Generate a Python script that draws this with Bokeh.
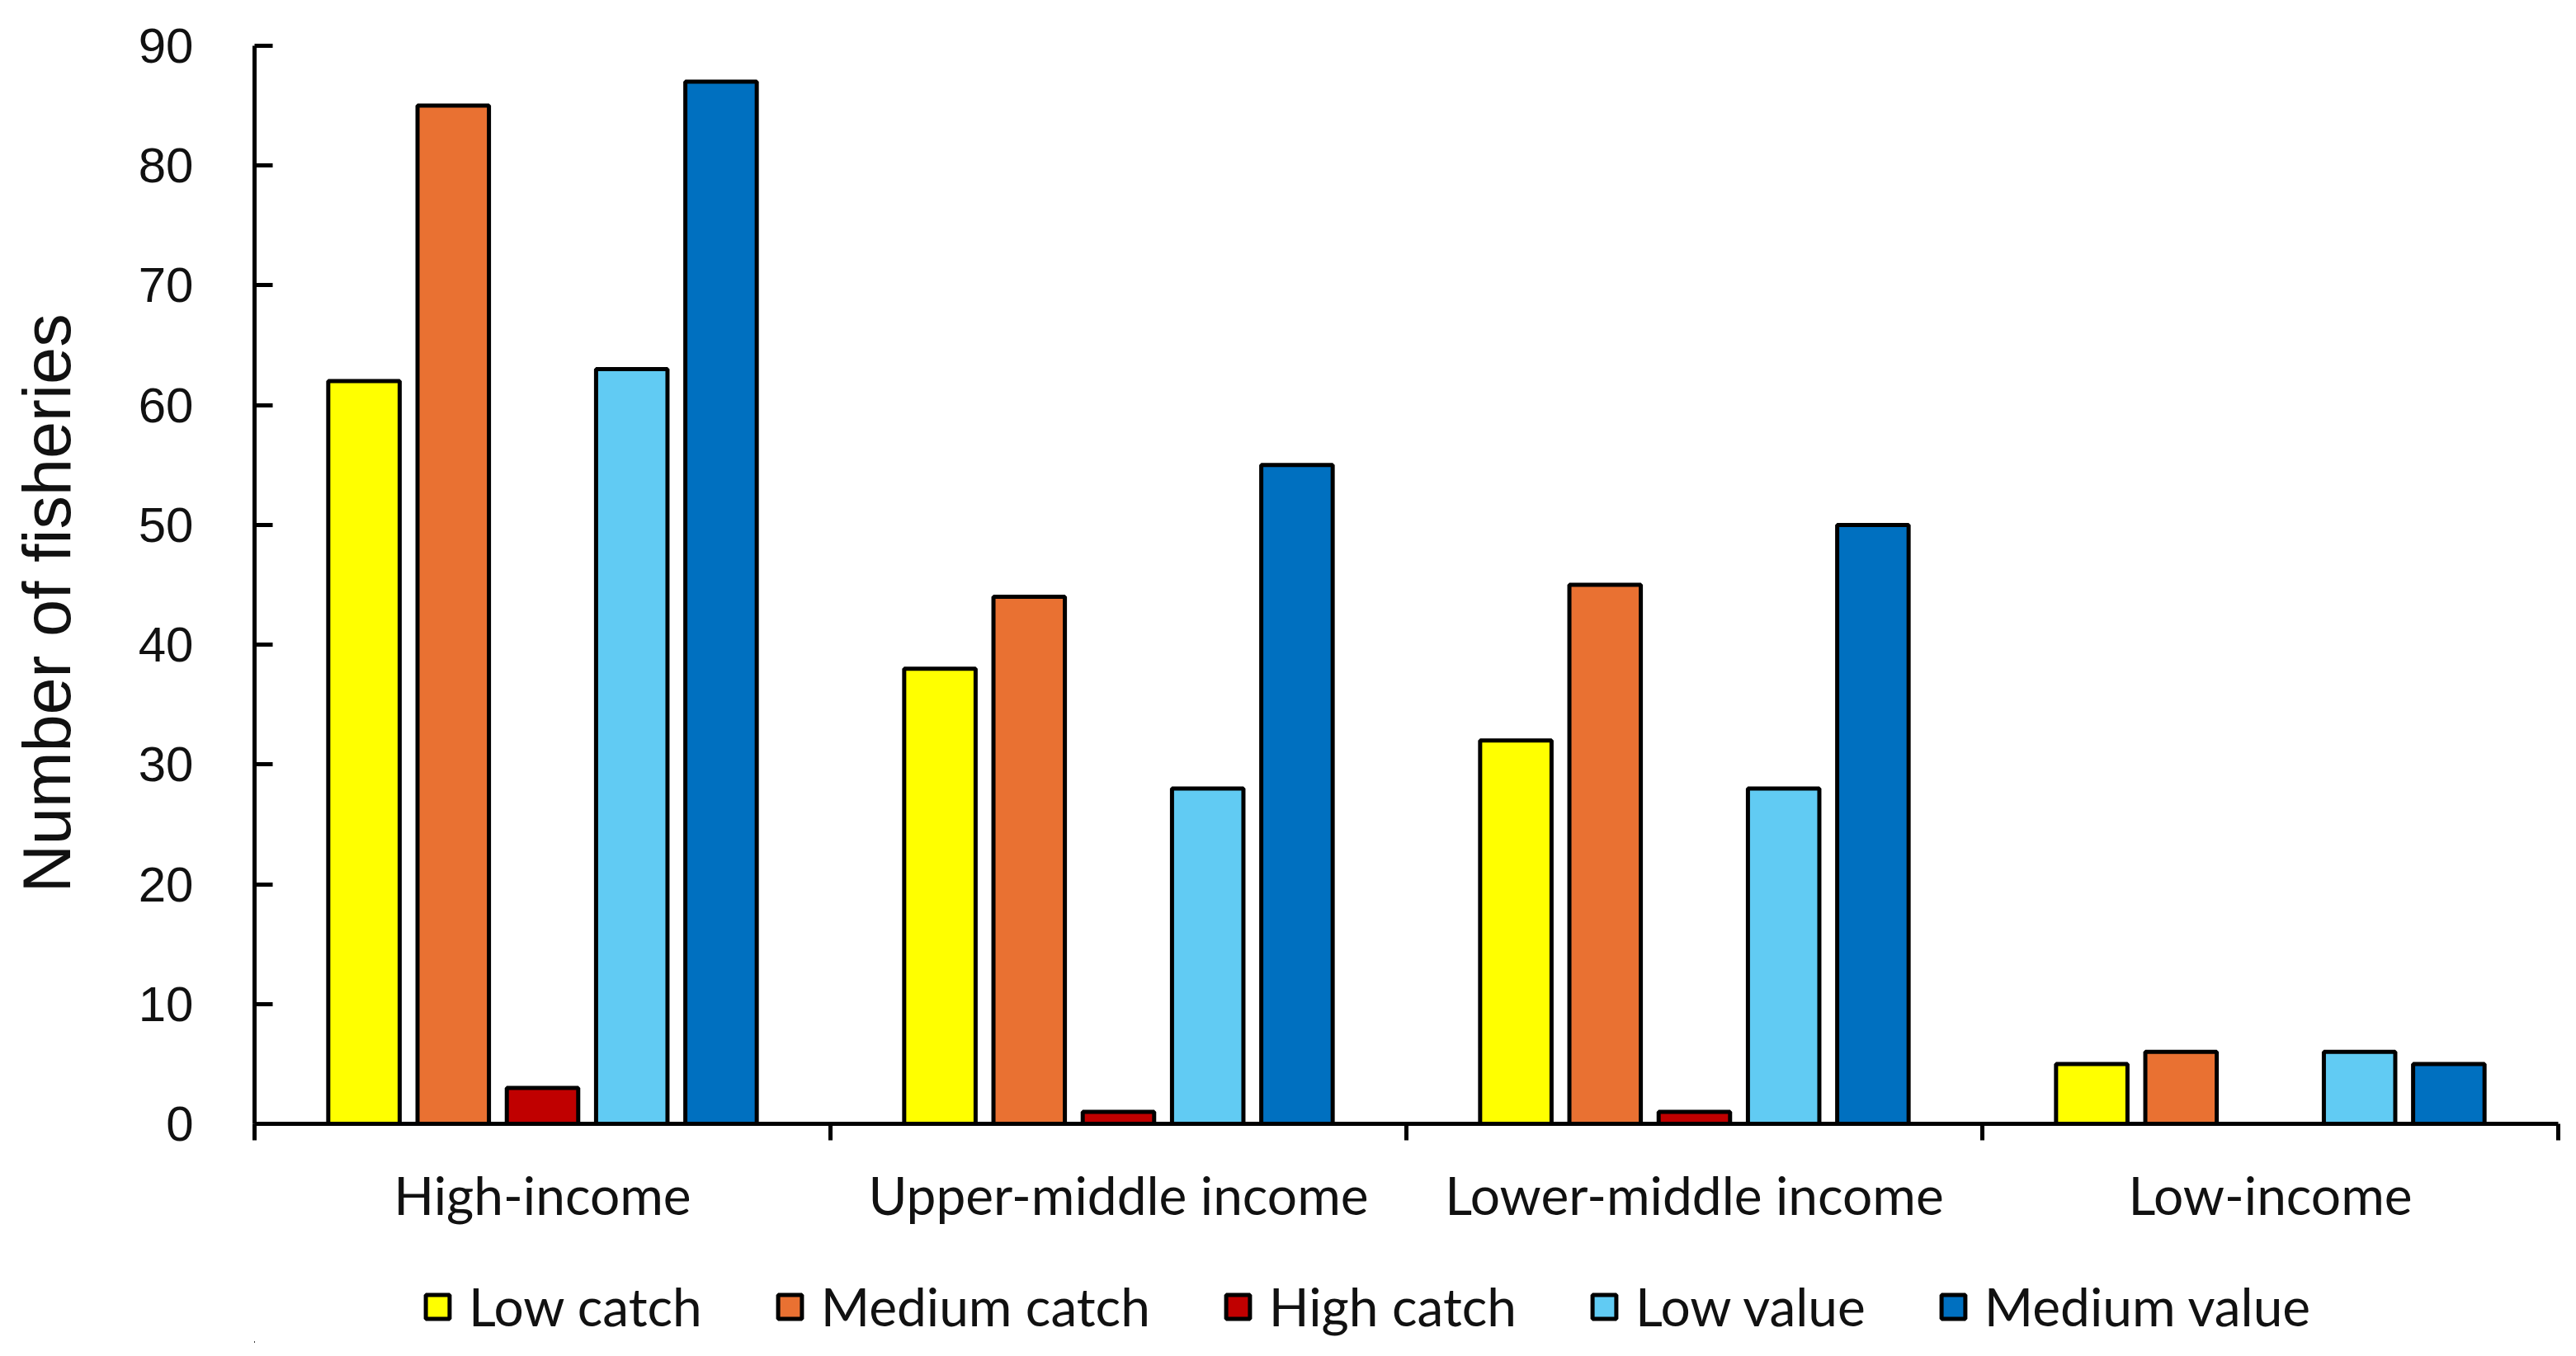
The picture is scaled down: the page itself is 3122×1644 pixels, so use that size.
from bokeh.plotting import figure
from bokeh.layouts import column
from bokeh.models import ColumnDataSource, Range1d, FixedTicker, Legend, LegendItem
from bokeh.transform import dodge
from bokeh.embed import file_html
from bokeh.resources import INLINE

categories = ["High-income", "Upper-middle income", "Lower-middle income", "Low-income"]
series_names = ["Low catch", "Medium catch", "High catch", "Low value", "Medium value"]
low_catch = [62, 38, 32, 5]
medium_catch = [85, 44, 45, 6]
high_catch = [3, 1, 1, 0]
low_value = [63, 28, 28, 6]
medium_value = [87, 55, 50, 5]
colors = ["#FFFF00", "#E97132", "#C00000", "#61CBF3", "#0070C0"]
y_ticks = [0, 10, 20, 30, 40, 50, 60, 70, 80, 90]

centers = [i + 0.5 for i in range(len(categories))]
bounds = [float(i) for i in range(len(categories) + 1)]

source = ColumnDataSource(data=dict(
    x=centers,
    low_catch=low_catch,
    medium_catch=medium_catch,
    high_catch=high_catch,
    low_value=low_value,
    medium_value=medium_value,
))
cols = ["low_catch", "medium_catch", "high_catch", "low_value", "medium_value"]
offsets = [-0.31, -0.155, 0.0, 0.155, 0.31]

W = 3106
H1, H2 = 1530, 98
p = figure(width=W, height=H1, x_range=Range1d(0, 4), y_range=Range1d(0, 90),
           output_backend="svg", toolbar_location=None,
           min_border_left=308, min_border_right=6, min_border_top=55,
           min_border_bottom=168)
p.outline_line_color = None
p.grid.visible = False
p.background_fill_color = "white"

for col, off, c in zip(cols, offsets, colors):
    p.vbar(x=dodge("x", off, range=p.x_range), top=col, width=0.124, bottom=0,
           source=source, fill_color=c, line_color="#000000", line_width=5)

TXT = "#111111"
# y axis
ya = p.yaxis[0]
ya.ticker = FixedTicker(ticks=y_ticks)
ya.major_tick_in = 22
ya.major_tick_out = 0
ya.minor_tick_line_color = None
ya.axis_line_width = 5
ya.axis_line_color = "#000000"
ya.major_tick_line_width = 5
ya.major_tick_line_color = "#000000"
ya.major_label_text_font = "Liberation Sans"
ya.major_label_text_font_size = "60px"
ya.major_label_text_color = TXT
ya.major_label_standoff = 74
ya.axis_label = "Number of fisheries\u00a0\u00a0"
ya.axis_label_text_font = "Liberation Sans"
ya.axis_label_text_font_size = "81px"
ya.axis_label_text_font_style = "normal"
ya.axis_label_text_color = TXT
ya.axis_label_standoff = 63

# x axis
xa = p.xaxis[0]
xa.ticker = FixedTicker(ticks=centers, minor_ticks=bounds)
xa.major_label_overrides = {c: name for c, name in zip(centers, categories)}
xa.major_tick_line_color = None
xa.major_tick_in = 0
xa.major_tick_out = 0
xa.minor_tick_in = 0
xa.minor_tick_out = 20
xa.minor_tick_line_width = 5
xa.minor_tick_line_color = "#000000"
xa.axis_line_width = 5
xa.axis_line_color = "#000000"
xa.major_label_text_font = "Lato"
xa.major_label_text_font_size = "64px"
xa.major_label_text_color = TXT
xa.major_label_standoff = 27

# legend strip below the chart (proxy renderers lie outside the visible range)
p2 = figure(width=W, height=H2, x_range=Range1d(0, 1), y_range=Range1d(0, 1),
            output_backend="svg", toolbar_location=None,
            x_axis_type=None, y_axis_type=None,
            min_border_left=0, min_border_right=0, min_border_top=0, min_border_bottom=0)
p2.outline_line_color = None
p2.grid.visible = False
items = []
for name, c in zip(series_names, colors):
    proxy = ColumnDataSource(data=dict(x=[-10.0], top=[0.0]))
    r = p2.vbar(x="x", top="top", width=0.1, source=proxy, fill_color=c,
                line_color="#000000", line_width=5)
    items.append(LegendItem(label=name, renderers=[r]))

legend = Legend(items=items, orientation="horizontal", location=(204, 6),
                glyph_width=36, glyph_height=36, label_standoff=20, spacing=88,
                padding=0, margin=0, border_line_color=None,
                background_fill_alpha=0,
                label_text_font="Lato", label_text_font_size="64px",
                label_text_color=TXT)
p2.add_layout(legend, "center")

layout = column(p, p2, spacing=0)
open("out.html", "w").write(file_html(layout, INLINE))
